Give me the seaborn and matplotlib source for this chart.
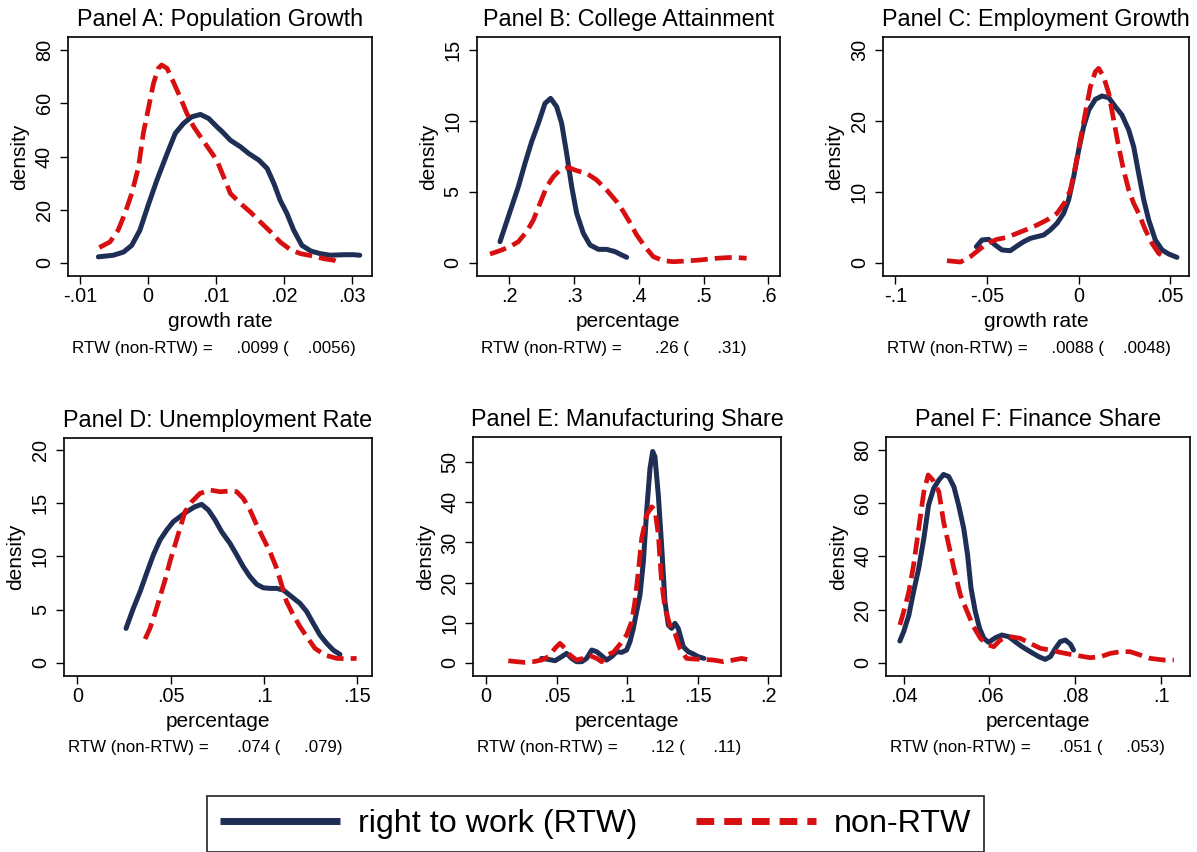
import matplotlib
matplotlib.use("Agg")
import matplotlib.pyplot as plt
from matplotlib.lines import Line2D
import seaborn as sns
import pandas as pd

sns.set_style("white")
plt.rcParams['font.family'] = ['Liberation Sans', 'DejaVu Sans']
plt.rcParams['text.color'] = 'black'

# ---------------- data ----------------
titles = ["Panel A: Population Growth", "Panel B: College Attainment",
          "Panel C: Employment Growth", "Panel D: Unemployment Rate",
          "Panel E: Manufacturing Share", "Panel F: Finance Share"]
xlabels = ["growth rate", "percentage", "growth rate",
           "percentage", "percentage", "percentage"]
mean_rtw = [".0099", ".26", ".0088", ".074", ".12", ".051"]
mean_non = [".0056", ".31", ".0048", ".079", ".11", ".053"]

xticks_A = [-0.01, 0.0, 0.01, 0.02, 0.03]
xtl_A = ["-.01", "0", ".01", ".02", ".03"]
yticks_A = [0, 20, 40, 60, 80]
xticks_B = [0.2, 0.3, 0.4, 0.5, 0.6]
xtl_B = [".2", ".3", ".4", ".5", ".6"]
yticks_B = [0, 5, 10, 15]
xticks_C = [-0.1, -0.05, 0.0, 0.05]
xtl_C = ["-.1", "-.05", "0", ".05"]
yticks_C = [0, 10, 20, 30]
xticks_D = [0.0, 0.05, 0.1, 0.15]
xtl_D = ["0", ".05", ".1", ".15"]
yticks_D = [0, 5, 10, 15, 20]
xticks_E = [0.0, 0.05, 0.1, 0.15, 0.2]
xtl_E = ["0", ".05", ".1", ".15", ".2"]
yticks_E = [0, 10, 20, 30, 40, 50]
xticks_F = [0.04, 0.06, 0.08, 0.1]
xtl_F = [".04", ".06", ".08", ".1"]
yticks_F = [0, 20, 40, 60, 80]

# Panel A
A_rtw_x = [-0.0073, -0.0051, -0.0036, -0.0024, -0.0012, 0.0001, 0.0013, 0.0028, 0.0040,
           0.0052, 0.0064, 0.0077, 0.0089, 0.0101, 0.0109, 0.0121, 0.0136, 0.0148, 0.0163,
           0.0175, 0.0185, 0.0194, 0.0204, 0.0214, 0.0226, 0.0239, 0.0253, 0.0268, 0.0288,
           0.0302, 0.0311]
A_rtw_y = [2.3, 2.9, 4.1, 6.6, 12.3, 22.3, 31.1, 41.1, 48.7, 52.4, 54.9, 55.8, 54.3, 51.2,
           49.3, 46.1, 43.6, 41.1, 38.6, 35.5, 29.8, 23.6, 18.6, 12.3, 6.6, 4.5, 3.5, 2.9,
           3.1, 3.1, 2.9]
A_non_x = [-0.00715, -0.0056, -0.0044, -0.0034, -0.0024, -0.0014, -0.0007, 0.0001, 0.0008,
           0.0015, 0.0020, 0.0028, 0.0037, 0.0047, 0.0057, 0.0067, 0.0077, 0.0089, 0.0101,
           0.0111, 0.0121, 0.0136, 0.0150, 0.0165, 0.0180, 0.0194, 0.0209, 0.0224, 0.0244,
           0.0258, 0.0273, 0.0278]
A_non_y = [5.8, 7.9, 12.3, 18.6, 26.1, 36.1, 48.7, 58.7, 67.5, 73.1, 74.4, 73.1, 68.1, 62.4,
           56.2, 51.2, 47.4, 43.0, 38.6, 32.4, 26.1, 22.3, 19.2, 15.4, 11.7, 7.9, 5.0, 3.5,
           2.5, 1.6, 1.0, 0.4]

# Panel B
B_rtw_x = [0.1856, 0.1933, 0.2036, 0.2139, 0.2242, 0.2345, 0.2448, 0.2551, 0.2638, 0.2731,
           0.2808, 0.2885, 0.2963, 0.3040, 0.3143, 0.3246, 0.3375, 0.3503, 0.3632, 0.3735,
           0.3812]
B_rtw_y = [1.48, 2.54, 3.95, 5.36, 7.01, 8.54, 9.83, 11.24, 11.59, 11.0, 9.83, 7.71, 5.36,
           3.48, 2.07, 1.25, 0.94, 0.94, 0.78, 0.54, 0.38]
B_non_x = [0.1701, 0.1856, 0.2010, 0.2139, 0.2268, 0.2371, 0.2474, 0.2577, 0.2680, 0.2782,
           0.2911, 0.3040, 0.3194, 0.3349, 0.3503, 0.3658, 0.3761, 0.3864, 0.3967, 0.4095,
           0.4224, 0.4378, 0.4533, 0.4739, 0.4945, 0.5202, 0.5459, 0.5665]
B_non_y = [0.61, 0.85, 1.13, 1.48, 2.19, 3.01, 4.19, 5.36, 6.07, 6.54, 6.72, 6.49, 6.30,
           5.83, 5.13, 4.30, 3.60, 2.82, 1.95, 1.13, 0.42, 0.14, 0.07, 0.12, 0.19, 0.31,
           0.38, 0.31]

# Panel C
C_rtw_x = [-0.0558, -0.0527, -0.0491, -0.0455, -0.0418, -0.0373, -0.0336, -0.0300, -0.0264,
           -0.0227, -0.0191, -0.0155, -0.0118, -0.0082, -0.0055, -0.0027, 0.0000, 0.0027,
           0.0055, 0.0091, 0.0127, 0.0164, 0.0200, 0.0236, 0.0273, 0.0300, 0.0327, 0.0355,
           0.0382, 0.0418, 0.0455, 0.0491, 0.0536]
C_rtw_y = [2.26, 3.20, 3.29, 2.49, 1.79, 1.69, 2.35, 2.96, 3.43, 3.67, 3.90, 4.61, 5.55,
           6.96, 8.84, 12.13, 15.89, 19.18, 21.53, 23.04, 23.51, 23.27, 22.0, 20.83, 18.71,
           16.36, 12.6, 8.84, 6.02, 3.20, 1.79, 1.22, 0.75]
C_non_x = [-0.0718, -0.0645, -0.0591, -0.0545, -0.0500, -0.0445, -0.0391, -0.0336, -0.0282,
           -0.0227, -0.0173, -0.0118, -0.0073, -0.0045, -0.0018, 0.0009, 0.0036, 0.0064,
           0.0091, 0.0109, 0.0136, 0.0164, 0.0191, 0.0218, 0.0245, 0.0273, 0.0300, 0.0327,
           0.0364, 0.0400, 0.0436, 0.0482]
C_non_y = [0.28, 0.09, 0.85, 1.79, 2.73, 3.29, 3.57, 4.14, 4.70, 5.31, 6.02, 6.96, 8.60,
           10.25, 13.54, 17.3, 21.06, 24.82, 26.94, 27.41, 26.23, 23.88, 20.12, 16.36,
           13.07, 10.25, 8.37, 6.96, 4.61, 2.73, 1.32, 0.61]

# Panel D
D_rtw_x = [0.0261, 0.0300, 0.0336, 0.0371, 0.0407, 0.0443, 0.0479, 0.0514, 0.0550, 0.0586,
           0.0630, 0.0666, 0.0702, 0.0738, 0.0773, 0.0818, 0.0854, 0.0889, 0.0925, 0.0961,
           0.0996, 0.1032, 0.1068, 0.1104, 0.1148, 0.1193, 0.1229, 0.1264, 0.1300, 0.1336,
           0.1371, 0.1407]
D_rtw_y = [3.23, 5.11, 6.68, 8.40, 10.13, 11.54, 12.48, 13.26, 13.73, 14.2, 14.67, 14.89,
           14.36, 13.42, 12.32, 11.22, 10.13, 9.03, 8.09, 7.37, 7.05, 6.99, 6.99, 6.83, 6.21,
           5.58, 4.80, 3.70, 2.60, 1.82, 1.19, 0.78]
D_non_x = [0.0363, 0.0389, 0.0416, 0.0443, 0.0470, 0.0496, 0.0523, 0.0550, 0.0577, 0.0613,
           0.0657, 0.0711, 0.0764, 0.0818, 0.0854, 0.0889, 0.0925, 0.0961, 0.0996, 0.1032,
           0.1068, 0.1095, 0.1121, 0.1157, 0.1193, 0.1229, 0.1273, 0.1327, 0.1389, 0.1443,
           0.1496]
D_non_y = [2.23, 3.23, 4.64, 6.21, 7.77, 9.50, 11.07, 12.63, 14.2, 15.14, 15.92, 16.24,
           16.08, 16.14, 16.08, 15.45, 14.36, 12.95, 11.69, 10.44, 8.87, 7.30, 5.74, 4.48,
           3.39, 2.45, 1.35, 0.72, 0.41, 0.38, 0.41]

# Panel E
E_rtw_x = [0.0394, 0.0442, 0.0489, 0.0536, 0.0571, 0.0607, 0.0642, 0.0678, 0.0713, 0.0749,
           0.0784, 0.0819, 0.0855, 0.0890, 0.0926, 0.0961, 0.0996, 0.1020, 0.1044, 0.1067,
           0.1091, 0.1115, 0.1138, 0.1162, 0.1181, 0.1197, 0.1221, 0.1244, 0.1268, 0.1292,
           0.1315, 0.1339, 0.1362, 0.1398, 0.1433, 0.1469, 0.1504, 0.1544]
E_rtw_y = [1.08, 0.83, 0.5, 1.5, 2.33, 1.08, 0.25, 0.25, 1.08, 3.16, 2.75, 1.75, 0.67, 1.5,
           2.75, 2.58, 3.16, 5.24, 8.57, 12.73, 16.89, 25.2, 37.7, 48.5, 52.7, 51.4, 41.8,
           29.4, 15.2, 9.4, 8.57, 9.82, 8.57, 3.99, 2.75, 2.16, 1.5, 1.08]
E_non_x = [0.0158, 0.0217, 0.0276, 0.0335, 0.0394, 0.0442, 0.0489, 0.0524, 0.0560, 0.0595,
           0.0642, 0.0689, 0.0737, 0.0784, 0.0819, 0.0855, 0.0902, 0.0949, 0.0996, 0.1032,
           0.1055, 0.1079, 0.1103, 0.1138, 0.1174, 0.1197, 0.1221, 0.1244, 0.1268, 0.1303,
           0.1339, 0.1374, 0.1421, 0.1469, 0.1540, 0.1610, 0.1681, 0.1752, 0.1811, 0.1870]
E_non_y = [0.5, 0.25, 0.08, 0.25, 0.67, 1.5, 3.58, 4.83, 3.58, 1.91, 0.67, 1.08, 1.75, 1.08,
           0.25, 1.91, 2.58, 4.58, 6.91, 10.23, 15.2, 22.7, 31.0, 36.9, 38.9, 38.1, 31.9,
           20.2, 13.6, 9.4, 7.3, 3.58, 1.08, 0.92, 0.83, 0.67, 0.25, 0.67, 1.08, 0.67]

# Panel F
F_rtw_x = [0.0391, 0.0400, 0.0412, 0.0423, 0.0435, 0.0447, 0.0458, 0.0470, 0.0482, 0.0493,
           0.0505, 0.0517, 0.0528, 0.0540, 0.0549, 0.0557, 0.0567, 0.0577, 0.0587, 0.0598,
           0.0614, 0.0629, 0.0645, 0.0660, 0.0676, 0.0695, 0.0715, 0.0730, 0.0742, 0.0754,
           0.0765, 0.0777, 0.0789, 0.0796]
F_rtw_y = [8.15, 11.7, 17.9, 26.7, 35.5, 46.8, 59.3, 65.6, 68.7, 70.8, 70.0, 66.2, 59.3,
           50.5, 40.5, 28.0, 19.2, 12.9, 9.15, 7.65, 9.4, 10.4, 9.78, 7.9, 6.02, 4.14, 2.26,
           1.25, 2.26, 5.39, 7.9, 8.53, 6.9, 4.76]
F_non_x = [0.0391, 0.0400, 0.0412, 0.0423, 0.0435, 0.0447, 0.0457, 0.0468, 0.0482, 0.0493,
           0.0505, 0.0517, 0.0532, 0.0548, 0.0563, 0.0579, 0.0594, 0.0610, 0.0625, 0.0649,
           0.0672, 0.0695, 0.0719, 0.0742, 0.0765, 0.0789, 0.0812, 0.0835, 0.0859, 0.0882,
           0.0905, 0.0928, 0.0952, 0.0975, 0.1006, 0.1030]
F_non_y = [14.2, 19.2, 26.7, 36.7, 50.5, 64.3, 70.6, 68.7, 64.3, 53.0, 44.3, 35.5, 25.5,
           19.2, 13.5, 9.15, 6.9, 6.02, 8.53, 9.78, 9.15, 7.27, 5.39, 4.76, 3.89, 3.13, 2.51,
           1.88, 2.26, 3.51, 4.14, 4.14, 2.88, 1.63, 1.0, 1.0]

rtw_label = "right to work (RTW)"
non_label = "non-RTW"

# ---------------- styling / layout ----------------
W, H = 1197, 852
BLUE = "#1f2e55"
RED = "#d80f10"

panels = [
    dict(rx=A_rtw_x, ry=A_rtw_y, nx=A_non_x, ny=A_non_y, xt=xticks_A, xtl=xtl_A, yt=yticks_A,
         box=(68, 37, 372, 276), xlim=(-0.01176, 0.0329), ylim=(-4.9, 84.9)),
    dict(rx=B_rtw_x, ry=B_rtw_y, nx=B_non_x, ny=B_non_y, xt=xticks_B, xtl=xtl_B, yt=yticks_B,
         box=(476.7, 37, 780, 276), xlim=(0.1496, 0.618), ylim=(-0.94, 15.92)),
    dict(rx=C_rtw_x, ry=C_rtw_y, nx=C_non_x, ny=C_non_y, xt=xticks_C, xtl=xtl_C, yt=yticks_C,
         box=(883, 37, 1188.7, 276), xlim=(-0.1067, 0.06), ylim=(-1.88, 31.83)),
    dict(rx=D_rtw_x, ry=D_rtw_y, nx=D_non_x, ny=D_non_y, xt=xticks_D, xtl=xtl_D, yt=yticks_D,
         box=(64, 437.7, 371.7, 675.7), xlim=(-0.00714, 0.1577), ylim=(-1.22, 21.16)),
    dict(rx=E_rtw_x, ry=E_rtw_y, nx=E_non_x, ny=E_non_y, xt=xticks_E, xtl=xtl_E, yt=yticks_E,
         box=(473.3, 437.3, 780.7, 675.7), xlim=(-0.009, 0.2088), ylim=(-3.24, 56.24)),
    dict(rx=F_rtw_x, ry=F_rtw_y, nx=F_non_x, ny=F_non_y, xt=xticks_F, xtl=xtl_F, yt=yticks_F,
         box=(886.3, 437.3, 1189.7, 675.7), xlim=(0.03594, 0.1067), ylim=(-4.89, 84.78)),
]

fig = plt.figure(figsize=(W / 100, H / 100), dpi=100)
fig.patch.set_facecolor("white")

for i, p in enumerate(panels):
    x0, y0, x1, y1 = p["box"]
    ax = fig.add_axes([x0 / W, 1 - y1 / H, (x1 - x0) / W, (y1 - y0) / H])
    ax_w, ax_h = x1 - x0, y1 - y0
    df_r = pd.DataFrame({"x": p["rx"], "y": p["ry"]})
    df_n = pd.DataFrame({"x": p["nx"], "y": p["ny"]})
    sns.lineplot(data=df_r, x="x", y="y", ax=ax, color=BLUE, lw=3.6,
                 estimator=None, sort=False, solid_capstyle="round", solid_joinstyle="round")
    sns.lineplot(data=df_n, x="x", y="y", ax=ax, color=RED, lw=3.4,
                 estimator=None, sort=False, dashes=False, linestyle=(0, (3.6, 1.5)),
                 dash_capstyle="butt")
    ax.set_xlim(*p["xlim"])
    ax.set_ylim(*p["ylim"])
    ax.set_xticks(p["xt"])
    ax.set_xticklabels(p["xtl"])
    ax.set_yticks(p["yt"])
    ax.set_yticklabels([str(v) for v in p["yt"]], rotation=90, va="center", ha="center")
    ax.tick_params(axis="both", direction="out", length=5.5, width=1.0, color="black",
                   labelsize=14.3, labelcolor="black", bottom=True, left=True,
                   top=False, right=False)
    ax.tick_params(axis="y", pad=11.5)
    ax.tick_params(axis="x", pad=2.5)
    for s in ax.spines.values():
        s.set_visible(True)
        s.set_color("black")
        s.set_linewidth(1.2)
    ax.set_title(titles[i], fontsize=16.8, color="black", pad=8)
    ax.set_xlabel(xlabels[i], fontsize=15, color="black", va="center")
    ax.set_ylabel("density", fontsize=15, color="black", va="center")
    ax.xaxis.set_label_coords(0.5, -45.7 / ax_h)
    ax.yaxis.set_label_coords(-48 / ax_w, 0.5)
    ax.annotate(f"RTW (non-RTW) = {mean_rtw[i]:>9} ({mean_non[i]:>9})",
                xy=(0, 0), xycoords="axes fraction", xytext=(4, -72),
                textcoords="offset pixels", ha="left", va="center",
                fontsize=12.2, color="black", annotation_clip=False)
    ax.set_facecolor("white")

handles = [Line2D([0], [0], color=BLUE, lw=5.0, solid_capstyle="butt"),
           Line2D([0], [0], color=RED, lw=5.0, linestyle=(0, (2.55, 1.44)),
                  dash_capstyle="butt")]
leg = fig.legend(handles, [rtw_label, non_label], loc="upper left",
                 bbox_to_anchor=(207 / W, 1 - 796 / H), bbox_transform=fig.transFigure,
                 ncol=2, fontsize=23.2, frameon=True, fancybox=False, borderaxespad=0,
                 handlelength=3.72, handletextpad=0.56, columnspacing=1.83, borderpad=0.4,
                 labelcolor="black")
leg.get_frame().set_edgecolor("black")
leg.get_frame().set_linewidth(1.3)

fig.savefig("out.png", dpi=100, facecolor="white")
